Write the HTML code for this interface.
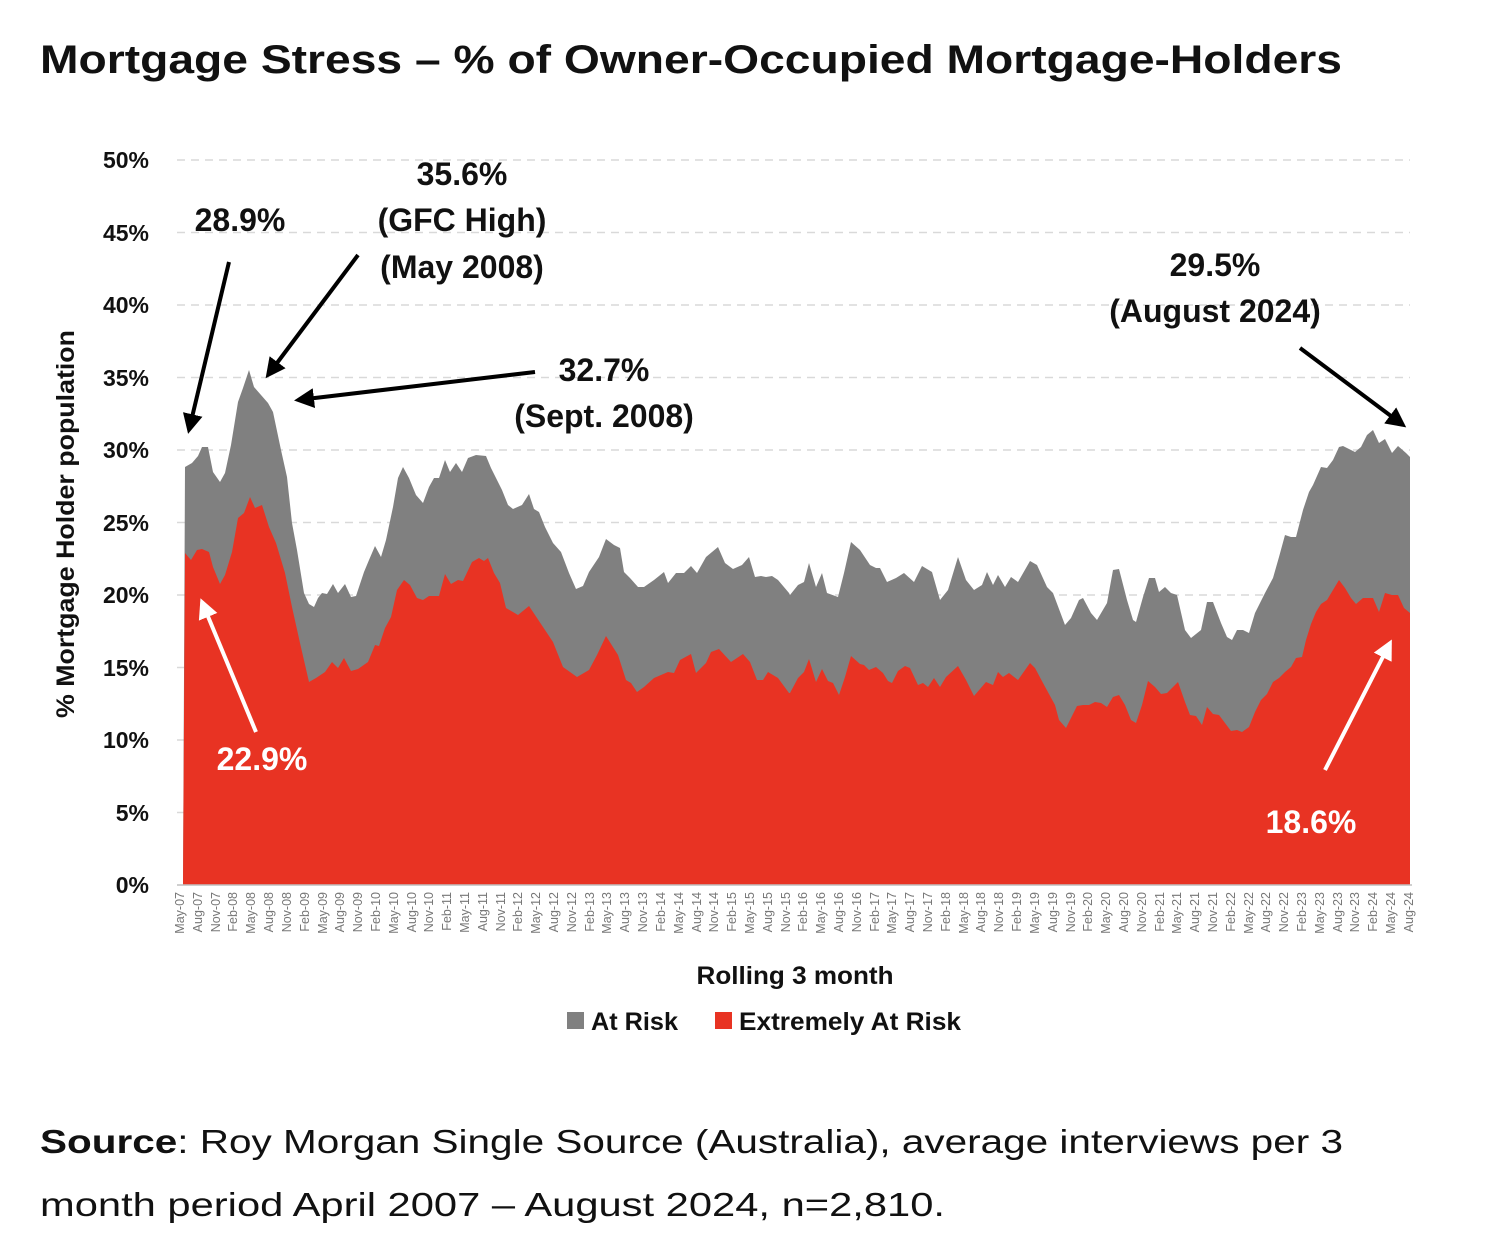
<!DOCTYPE html>
<html><head><meta charset="utf-8"><style>
html,body{margin:0;padding:0;background:#fff;}
svg{display:block;}
.t{font-family:"Liberation Sans",sans-serif;}
.xl text{font-family:"Liberation Sans",sans-serif;font-size:12.5px;fill:#777;text-anchor:end;}
.yl text{font-family:"Liberation Sans",sans-serif;font-size:23px;font-weight:bold;fill:#111;text-anchor:end;}
.an{font-family:"Liberation Sans",sans-serif;font-size:32px;font-weight:bold;text-anchor:middle;}
</style></head><body>
<svg width="1508" height="1238" viewBox="0 0 1508 1238" xmlns="http://www.w3.org/2000/svg">
<defs>
<marker id="ab" viewBox="0 0 10 10" refX="8" refY="5" markerWidth="5" markerHeight="5" orient="auto"><path d="M0,0 L10,5 L0,10 z" fill="#000"/></marker>
<marker id="aw" viewBox="0 0 10 10" refX="8" refY="5" markerWidth="5" markerHeight="5" orient="auto"><path d="M0,0 L10,5 L0,10 z" fill="#fff"/></marker>
</defs>
<text class="t" x="40" y="73" font-size="40" font-weight="bold" fill="#111" textLength="1302" lengthAdjust="spacingAndGlyphs">Mortgage Stress – % of Owner-Occupied Mortgage-Holders</text>

<g stroke="#d9d9d9" stroke-width="1.5" stroke-dasharray="8,6">
<line x1="177" y1="160" x2="1410" y2="160"/><line x1="177" y1="232.5" x2="1410" y2="232.5"/><line x1="177" y1="305" x2="1410" y2="305"/><line x1="177" y1="377.5" x2="1410" y2="377.5"/><line x1="177" y1="450" x2="1410" y2="450"/><line x1="177" y1="522.5" x2="1410" y2="522.5"/><line x1="177" y1="595" x2="1410" y2="595"/><line x1="177" y1="667.5" x2="1410" y2="667.5"/><line x1="177" y1="740" x2="1410" y2="740"/><line x1="177" y1="812.5" x2="1410" y2="812.5"/>
</g>
<g class="yl">
<text x="149" y="168">50%</text><text x="149" y="241">45%</text><text x="149" y="313">40%</text><text x="149" y="386">35%</text><text x="149" y="458">30%</text><text x="149" y="531">25%</text><text x="149" y="603">20%</text><text x="149" y="676">15%</text><text x="149" y="748">10%</text><text x="149" y="821">5%</text><text x="149" y="893">0%</text>
</g>
<text class="t" transform="translate(74,524) rotate(-90)" font-size="25" font-weight="bold" fill="#111" text-anchor="middle" textLength="388" lengthAdjust="spacingAndGlyphs">% Mortgage Holder population</text>

<polygon fill="#808080" points="183,885 185,467 192,463 198,456 202,447 208,447 213,472 220,482 225,473 231,445 238,402 243,388 249,370 254,387 261,395 268,403 273,412 281,450 287,477 292,523 297,550 304,593 309,604 314,607 318,598 322,593 327,594 333,584 338,593 345,584 351,597 356,596 364,572 369,560 375,546 381,557 386,540 393,507 398,478 403,467 409,478 416,495 423,503 429,487 434,478 439,478 445,460 450,472 456,463 462,472 468,458 476,455 486,456 491,468 496,478 502,490 508,505 513,509 522,505 529,494 534,509 539,512 545,527 553,543 561,552 569,573 576,589 583,586 589,572 599,557 606,539 614,545 620,548 624,572 630,578 638,587 644,587 654,580 664,572 668,583 676,573 684,573 691,566 697,573 706,557 718,547 725,563 733,569 742,565 749,557 755,577 761,576 766,577 772,576 778,580 789,593 790,595 798,585 804,582 809,563 816,587 822,573 827,593 838,597 844,573 851,542 860,550 870,565 876,568 880,568 887,582 896,578 904,573 914,582 922,566 932,572 940,600 948,590 958,557 966,580 974,590 982,585 987,572 993,585 998,575 1005,587 1011,577 1018,582 1030,561 1037,565 1047,587 1053,593 1065,625 1071,618 1079,600 1083,598 1091,613 1097,620 1107,603 1113,570 1119,569 1127,600 1133,620 1136,622 1143,597 1149,578 1155,578 1159,592 1165,587 1171,593 1177,595 1185,630 1191,638 1201,630 1207,602 1213,602 1221,623 1227,637 1232,640 1237,630 1243,630 1249,633 1255,613 1265,593 1273,578 1279,557 1285,535 1291,537 1296,537 1303,510 1309,492 1313,485 1321,467 1327,468 1333,460 1339,447 1343,446 1355,452 1361,447 1367,435 1373,430 1379,443 1385,439 1392,453 1398,446 1406,453 1410,457 1410,885"/>
<polygon fill="#e83323" points="183,885 185,553 191,560 197,550 202,549 209,552 213,567 220,584 225,575 232,552 238,518 244,513 250,497 255,508 262,505 269,527 276,543 285,573 292,607 300,643 309,682 316,678 325,672 332,662 338,668 344,658 351,671 358,669 368,662 375,645 379,646 385,628 391,617 397,590 404,580 410,585 417,598 423,600 429,596 439,596 445,574 451,584 458,580 463,581 472,562 479,558 484,561 488,558 494,573 500,583 506,608 518,615 529,606 537,618 543,627 553,642 563,667 577,677 589,670 597,655 606,636 618,655 626,680 631,683 637,692 644,687 654,678 668,672 674,673 680,660 691,654 696,673 706,663 711,652 719,649 731,662 743,654 750,662 757,680 763,680 768,672 778,678 789,693 790,693 798,678 804,672 809,659 816,682 822,669 828,681 833,683 839,695 845,677 851,656 860,664 864,665 869,670 876,667 883,673 888,681 892,683 898,671 905,666 910,668 918,685 923,683 928,687 934,678 940,687 946,677 958,666 966,680 974,696 986,682 993,685 998,672 1003,677 1009,673 1018,680 1030,663 1035,668 1043,683 1055,705 1059,720 1066,728 1077,706 1083,705 1089,705 1095,702 1101,703 1107,707 1113,697 1119,695 1125,705 1131,720 1136,723 1142,705 1148,681 1155,687 1161,694 1167,693 1178,682 1185,702 1190,715 1196,716 1202,725 1207,707 1213,714 1219,715 1231,731 1237,730 1242,732 1249,727 1255,712 1261,700 1267,694 1273,682 1279,678 1285,672 1291,667 1296,658 1302,657 1306,640 1311,624 1316,612 1321,604 1327,600 1333,590 1339,580 1345,588 1351,598 1356,604 1363,598 1373,598 1379,612 1385,593 1392,595 1398,595 1404,608 1410,613 1410,885"/>

<line x1="177" y1="885" x2="1412" y2="885" stroke="#bfbfbf" stroke-width="1.5"/>
<g class="xl">
<text transform="translate(184,892) rotate(-90)">May-07</text><text transform="translate(202,892) rotate(-90)">Aug-07</text><text transform="translate(220,892) rotate(-90)">Nov-07</text><text transform="translate(237,892) rotate(-90)">Feb-08</text><text transform="translate(255,892) rotate(-90)">May-08</text><text transform="translate(273,892) rotate(-90)">Aug-08</text><text transform="translate(291,892) rotate(-90)">Nov-08</text><text transform="translate(309,892) rotate(-90)">Feb-09</text><text transform="translate(327,892) rotate(-90)">May-09</text><text transform="translate(344,892) rotate(-90)">Aug-09</text><text transform="translate(362,892) rotate(-90)">Nov-09</text><text transform="translate(380,892) rotate(-90)">Feb-10</text><text transform="translate(398,892) rotate(-90)">May-10</text><text transform="translate(416,892) rotate(-90)">Aug-10</text><text transform="translate(433,892) rotate(-90)">Nov-10</text><text transform="translate(451,892) rotate(-90)">Feb-11</text><text transform="translate(469,892) rotate(-90)">May-11</text><text transform="translate(487,892) rotate(-90)">Aug-11</text><text transform="translate(505,892) rotate(-90)">Nov-11</text><text transform="translate(522,892) rotate(-90)">Feb-12</text><text transform="translate(540,892) rotate(-90)">May-12</text><text transform="translate(558,892) rotate(-90)">Aug-12</text><text transform="translate(576,892) rotate(-90)">Nov-12</text><text transform="translate(594,892) rotate(-90)">Feb-13</text><text transform="translate(611,892) rotate(-90)">May-13</text><text transform="translate(629,892) rotate(-90)">Aug-13</text><text transform="translate(647,892) rotate(-90)">Nov-13</text><text transform="translate(665,892) rotate(-90)">Feb-14</text><text transform="translate(683,892) rotate(-90)">May-14</text><text transform="translate(701,892) rotate(-90)">Aug-14</text><text transform="translate(718,892) rotate(-90)">Nov-14</text><text transform="translate(736,892) rotate(-90)">Feb-15</text><text transform="translate(754,892) rotate(-90)">May-15</text><text transform="translate(772,892) rotate(-90)">Aug-15</text><text transform="translate(790,892) rotate(-90)">Nov-15</text><text transform="translate(807,892) rotate(-90)">Feb-16</text><text transform="translate(825,892) rotate(-90)">May-16</text><text transform="translate(843,892) rotate(-90)">Aug-16</text><text transform="translate(861,892) rotate(-90)">Nov-16</text><text transform="translate(879,892) rotate(-90)">Feb-17</text><text transform="translate(896,892) rotate(-90)">May-17</text><text transform="translate(914,892) rotate(-90)">Aug-17</text><text transform="translate(932,892) rotate(-90)">Nov-17</text><text transform="translate(950,892) rotate(-90)">Feb-18</text><text transform="translate(968,892) rotate(-90)">May-18</text><text transform="translate(985,892) rotate(-90)">Aug-18</text><text transform="translate(1003,892) rotate(-90)">Nov-18</text><text transform="translate(1021,892) rotate(-90)">Feb-19</text><text transform="translate(1039,892) rotate(-90)">May-19</text><text transform="translate(1057,892) rotate(-90)">Aug-19</text><text transform="translate(1075,892) rotate(-90)">Nov-19</text><text transform="translate(1092,892) rotate(-90)">Feb-20</text><text transform="translate(1110,892) rotate(-90)">May-20</text><text transform="translate(1128,892) rotate(-90)">Aug-20</text><text transform="translate(1146,892) rotate(-90)">Nov-20</text><text transform="translate(1164,892) rotate(-90)">Feb-21</text><text transform="translate(1181,892) rotate(-90)">May-21</text><text transform="translate(1199,892) rotate(-90)">Aug-21</text><text transform="translate(1217,892) rotate(-90)">Nov-21</text><text transform="translate(1235,892) rotate(-90)">Feb-22</text><text transform="translate(1253,892) rotate(-90)">May-22</text><text transform="translate(1270,892) rotate(-90)">Aug-22</text><text transform="translate(1288,892) rotate(-90)">Nov-22</text><text transform="translate(1306,892) rotate(-90)">Feb-23</text><text transform="translate(1324,892) rotate(-90)">May-23</text><text transform="translate(1342,892) rotate(-90)">Aug-23</text><text transform="translate(1359,892) rotate(-90)">Nov-23</text><text transform="translate(1377,892) rotate(-90)">Feb-24</text><text transform="translate(1395,892) rotate(-90)">May-24</text><text transform="translate(1413,892) rotate(-90)">Aug-24</text>
</g>

<text class="t" x="795" y="984" font-size="25" font-weight="bold" fill="#111" text-anchor="middle" textLength="197" lengthAdjust="spacingAndGlyphs">Rolling 3 month</text>
<rect x="567" y="1012" width="17" height="17" fill="#808080"/>
<text class="t" x="591" y="1030" font-size="25" font-weight="bold" fill="#111" textLength="87" lengthAdjust="spacingAndGlyphs">At Risk</text>
<rect x="715" y="1012" width="17" height="17" fill="#e83323"/>
<text class="t" x="739" y="1030" font-size="25" font-weight="bold" fill="#111" textLength="222" lengthAdjust="spacingAndGlyphs">Extremely At Risk</text>

<g fill="#111">
<text class="an" x="240" y="231">28.9%</text>
<text class="an" x="462" y="185">35.6%</text>
<text class="an" x="462" y="231">(GFC High)</text>
<text class="an" x="462" y="278">(May 2008)</text>
<text class="an" x="604" y="381">32.7%</text>
<text class="an" x="604" y="427">(Sept. 2008)</text>
<text class="an" x="1215" y="276">29.5%</text>
<text class="an" x="1215" y="322">(August 2024)</text>
</g>
<g fill="#fff">
<text class="an" x="262" y="770">22.9%</text>
<text class="an" x="1311" y="833">18.6%</text>
</g>
<g stroke="#000" stroke-width="4" marker-end="url(#ab)">
<line x1="229" y1="262" x2="189" y2="430"/>
<line x1="358" y1="255" x2="268" y2="375"/>
<line x1="535" y1="372" x2="298" y2="400"/>
<line x1="1300" y1="348" x2="1403" y2="425"/>
</g>
<g stroke="#fff" stroke-width="4" marker-end="url(#aw)">
<line x1="256" y1="732" x2="202" y2="602"/>
<line x1="1325" y1="770" x2="1390" y2="643"/>
</g>

<text class="t" x="40" y="1153" font-size="33" fill="#111" textLength="1303" lengthAdjust="spacingAndGlyphs"><tspan font-weight="bold">Source</tspan>: Roy Morgan Single Source (Australia), average interviews per 3</text>
<text class="t" x="40" y="1216" font-size="33" fill="#111" textLength="905" lengthAdjust="spacingAndGlyphs">month period April 2007 – August 2024, n=2,810.</text>
</svg>
</body></html>
